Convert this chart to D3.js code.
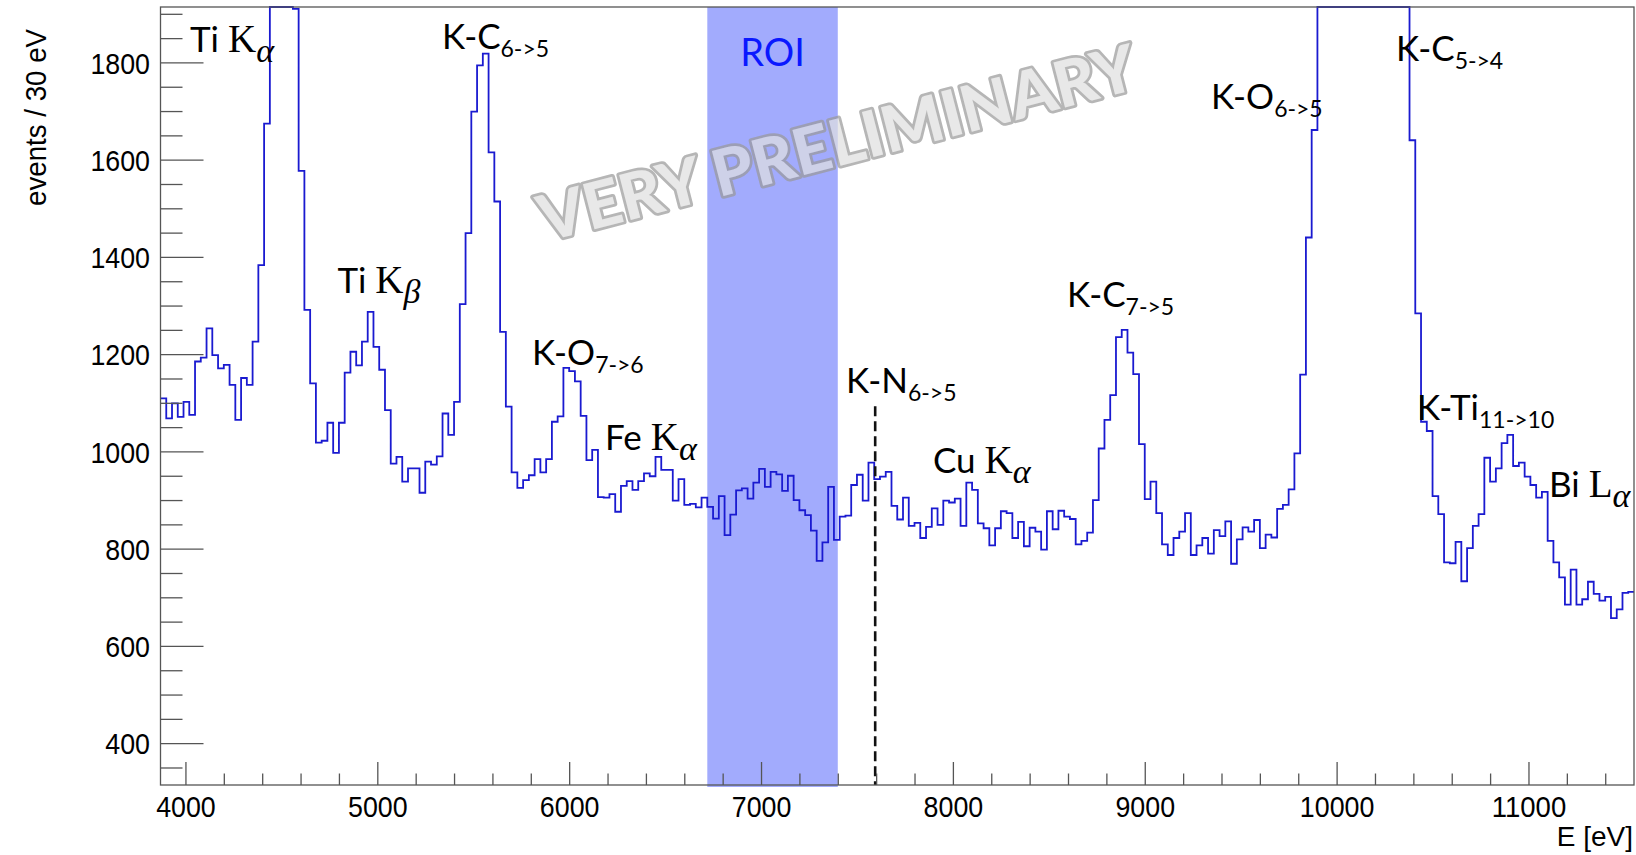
<!DOCTYPE html>
<html>
<head>
<meta charset="utf-8">
<script src="https://cdn.jsdelivr.net/npm/d3@7"></script>
<style>
  body { margin: 0; background: #ffffff; }
  svg { display: block; }
</style>
</head>
<body>
<svg id="chart" width="1636" height="855"></svg>
<script>
// ---- data -------------------------------------------------------------
// Energy spectrum, 30 eV bins starting at 3870 eV
const binStart = 3870;
const binWidth = 30;
const counts = [
  1109, 1068, 1099, 1071, 1102, 1075, 1185, 1193, 1253, 1198,
  1171, 1178, 1137, 1065, 1151, 1137, 1226, 1383, 1674, 2350,
  3050, 3000, 2450, 1910, 1577, 1291, 1140, 1018, 1022, 1059,
   997, 1059, 1162, 1205, 1177, 1226, 1287, 1215, 1168, 1085,
   975,  989,  938,  965,  965,  915,  979,  973,  990, 1078,
  1034, 1102, 1303, 1449, 1699, 1794, 1818, 1615, 1514, 1246,
  1092,  957,  925,  941,  951,  984,  957,  984, 1061, 1072,
  1172, 1165, 1144, 1073,  982, 1003,  906,  905,  912,  876,
   929,  939,  921,  939,  955,  949,  989,  962,  962,  899,
   943,  890,  892,  885,  905,  886,  862,  908,  828,  870,
   920,  924,  903,  936,  964,  927,  958,  953,  919,  950,
   900,  879,  869,  837,  775,  813,  927,  818,  866,  868,
   931,  952,  899,  977,  943,  948,  958,  888,  860,  905,
   847,  853,  822,  845,  883,  849,  899,  895,  903,  847,
   936,  921,  852,  842,  807,  842,  877,  873,  822,  855,
   805,  843,  835,  798,  877,  840,  878,  866,  861,  809,
   816,  833,  900, 1006, 1065, 1116, 1235, 1250, 1203, 1159,
  1015,  902,  938,  873,  809,  787,  822,  835,  873,  787,
   807,  822,  790,  838,  826,  856,  769,  819,  844,  835,
   859,  801,  829,  823,  882,  890,  922,  996, 1158, 1440,
  1661, 2300, 3100, 4000, 4600, 4700, 4300, 3900, 4200, 5200,
  6300, 6900, 6800, 5900, 4600, 3300, 2300, 1640, 1284, 1061,
  1042,  908,  871,  772,  770,  814,  733,  801,  847,  871,
   987,  938,  965, 1017, 1034,  970,  977,  948,  931,  905,
   917,  816,  772,  741,  685,  757,  685,  696,  732,  707,
   693,  701,  657,  675,  709,  711
];

const xTickValues = [4000, 5000, 6000, 7000, 8000, 9000, 10000, 11000];
const yTickValues = [400, 600, 800, 1000, 1200, 1400, 1600, 1800];

const energyRange = [3870, 11550];
const countRange = [314, 1914];

const roiRange = [6720, 7400];
const roiLabel = "ROI";

const knMarker = { energy: 7595, top: 1093 };

const xTitle = "E [eV]";
const yTitle = "events / 30 eV";
const watermark = "VERY PRELIMINARY";

// line annotations: text pieces with their typeface role, anchored at (energy, counts)
const annotations = [
  { parts: [["Ti ", "sans"], ["K", "serif"], ["α", "greek"]], energy: 4024, count: 1821 },
  { parts: [["Ti ", "sans"], ["K", "serif"], ["β", "greek"]], energy: 4792, count: 1326 },
  { parts: [["K-C", "sans"], ["6->5", "sub"]], energy: 5337, count: 1828 },
  { parts: [["K-O", "sans"], ["7->6", "sub"]], energy: 5806, count: 1178 },
  { parts: [["Fe ", "sans"], ["K", "serif"], ["α", "greek"]], energy: 6187, count: 1003 },
  { parts: [["K-N", "sans"], ["6->5", "sub"]], energy: 7443, count: 1120 },
  { parts: [["Cu ", "sans"], ["K", "serif"], ["α", "greek"]], energy: 7896, count: 956 },
  { parts: [["K-C", "sans"], ["7->5", "sub"]], energy: 8595, count: 1297 },
  { parts: [["K-O", "sans"], ["6->5", "sub"]], energy: 9345, count: 1704 },
  { parts: [["K-C", "sans"], ["5->4", "sub"]], energy: 10310, count: 1803 },
  { parts: [["K-Ti", "sans"], ["11->10", "sub"]], energy: 10419, count: 1065 },
  { parts: [["Bi ", "sans"], ["L", "serif"], ["α", "greek"]], energy: 11107, count: 906 }
];

// ---- layout -----------------------------------------------------------
const frame = { left: 160.5, right: 1634, top: 7, bottom: 785 };
const svg = d3.select("#chart");

const x = d3.scaleLinear().domain(energyRange).range([frame.left, frame.right]);
const y = d3.scaleLinear().domain(countRange).range([frame.bottom, frame.top]).clamp(true);

const axisColor = "#555555";
const tickFont = "'Liberation Sans', Arial, Helvetica, sans-serif";
const plainInt = d3.format("d");

// ROI band
svg.append("rect")
  .attr("x", x(roiRange[0]))
  .attr("y", frame.top)
  .attr("width", x(roiRange[1]) - x(roiRange[0]))
  .attr("height", frame.bottom - frame.top + 2)
  .attr("fill", "#a2abfd");

// watermark
const wmX = 843, wmY = 165;
svg.append("text")
  .attr("x", wmX)
  .attr("y", wmY)
  .attr("transform", `rotate(-14.5, ${wmX}, ${wmY})`)
  .attr("text-anchor", "middle")
  .attr("font-family", "Lato, 'Open Sans', sans-serif")
  .attr("font-weight", 900)
  .attr("font-size", 64)
  .attr("textLength", 615)
  .attr("lengthAdjust", "spacingAndGlyphs")
  .attr("fill", "#e0e0e0")
  .attr("stroke", "#9a9a9a")
  .attr("stroke-width", 5.5)
  .attr("stroke-linejoin", "round")
  .attr("paint-order", "stroke fill")
  .attr("opacity", 0.72)
  .text(watermark);

// ROI label
svg.append("text")
  .attr("x", x((roiRange[0] + roiRange[1]) / 2))
  .attr("y", y(1793))
  .attr("text-anchor", "middle")
  .attr("font-family", "Lato, 'Open Sans', sans-serif")
  .attr("font-size", 38)
  .attr("fill", "#0a18ff")
  .text(roiLabel);

// histogram outline
const points = counts.map((c, i) => [binStart + i * binWidth, c]);
points.push([binStart + counts.length * binWidth, counts[counts.length - 1]]);

const stepLine = d3.line()
  .x(d => x(d[0]))
  .y(d => y(d[1]))
  .curve(d3.curveStepAfter);

svg.append("path")
  .datum(points)
  .attr("d", stepLine)
  .attr("fill", "none")
  .attr("stroke", "#1a1ad0")
  .attr("stroke-width", 1.8)
  .attr("stroke-linejoin", "miter");

// K-N marker
svg.append("line")
  .attr("x1", x(knMarker.energy))
  .attr("x2", x(knMarker.energy))
  .attr("y1", y(knMarker.top))
  .attr("y2", frame.bottom)
  .attr("stroke", "#111")
  .attr("stroke-width", 2.6)
  .attr("stroke-dasharray", "10,5");

// ---- axes -------------------------------------------------------------
const xMinor = d3.range(4000, energyRange[1], 200).filter(v => v % 1000 !== 0);
const yMinor = d3.range(350, countRange[1], 50).filter(v => v % 200 !== 0);

function styleAxis(g) {
  g.select(".domain").remove();
  g.selectAll(".tick line").attr("stroke", axisColor).attr("stroke-width", 1.3);
  g.attr("font-family", null).attr("font-size", null);
}

function styleTickText(sel) {
  sel.attr("fill", "#000")
    .attr("font-family", tickFont)
    .attr("font-size", 30)
    .each(function () {
      const n = this.textContent.length;
      d3.select(this).attr("textLength", n * 14.9).attr("lengthAdjust", "spacingAndGlyphs");
    });
}

// bottom axis: ticks point into the frame
const gx = svg.append("g").attr("transform", `translate(0,${frame.bottom})`);
gx.append("g").call(d3.axisBottom(x).tickValues(xMinor).tickSize(-11.5).tickFormat("")).call(styleAxis);
const gxMajor = gx.append("g")
  .call(d3.axisBottom(x).tickValues(xTickValues).tickSize(-23).tickFormat(plainInt))
  .call(styleAxis);
gxMajor.selectAll(".tick text").attr("y", 32).attr("dy", 0).call(styleTickText);

// left axis
const gy = svg.append("g").attr("transform", `translate(${frame.left},0)`);
gy.append("g").call(d3.axisLeft(y).tickValues(yMinor).tickSize(-22).tickFormat("")).call(styleAxis);
const gyMajor = gy.append("g")
  .call(d3.axisLeft(y).tickValues(yTickValues).tickSize(-43).tickFormat(plainInt))
  .call(styleAxis);
gyMajor.selectAll(".tick text").attr("x", -10.5).attr("dy", "0.36em").call(styleTickText);

// frame
svg.append("rect")
  .attr("x", frame.left)
  .attr("y", frame.top)
  .attr("width", frame.right - frame.left)
  .attr("height", frame.bottom - frame.top)
  .attr("fill", "none")
  .attr("stroke", axisColor)
  .attr("stroke-width", 1.3);

// axis titles
svg.append("text")
  .attr("x", frame.right - 1)
  .attr("y", 846)
  .attr("text-anchor", "end")
  .attr("font-family", tickFont)
  .attr("font-size", 28)
  .attr("fill", "#000")
  .text(xTitle);

svg.append("text")
  .attr("transform", "translate(46,29) rotate(-90)")
  .attr("text-anchor", "end")
  .attr("font-family", tickFont)
  .attr("font-size", 30)
  .attr("textLength", 177)
  .attr("lengthAdjust", "spacingAndGlyphs")
  .attr("fill", "#000")
  .text(yTitle);

// ---- annotations ------------------------------------------------------
const roleStyle = {
  sans:  { family: "Lato, 'Open Sans', sans-serif", size: 35, style: "normal", dy: 0 },
  serif: { family: "'Liberation Serif', 'Times New Roman', serif", size: 39, style: "normal", dy: 0 },
  greek: { family: "'Liberation Serif', 'Times New Roman', serif", size: 34, style: "italic", dy: 10 },
  sub:   { family: "Lato, 'Open Sans', sans-serif", size: 23, style: "normal", dy: 8 }
};

const labelLayer = svg.append("g");
annotations.forEach(a => {
  const t = labelLayer.append("text")
    .attr("x", x(a.energy))
    .attr("y", y(a.count))
    .attr("fill", "#000");
  let shift = 0;
  a.parts.forEach(([txt, role]) => {
    const s = roleStyle[role];
    t.append("tspan")
      .attr("font-family", s.family)
      .attr("font-size", s.size)
      .attr("font-style", s.style)
      .attr("dy", s.dy - shift)
      .text(txt);
    shift = s.dy;
  });
});
</script>
</body>
</html>
